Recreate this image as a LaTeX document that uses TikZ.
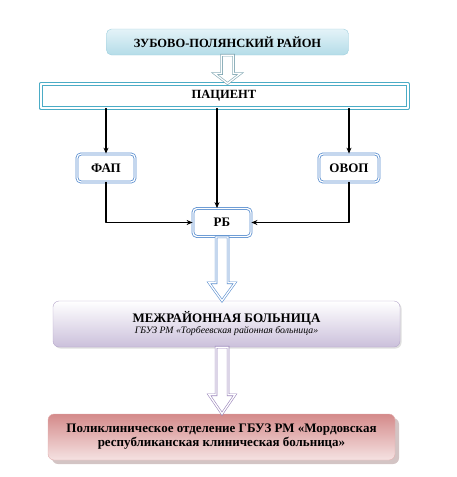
\documentclass[tikz,border=0pt]{standalone}
\usepackage{fontspec}
\setmainfont{Liberation Serif}
\usetikzlibrary{arrows.meta,shadows,calc}
\definecolor{boxblue}{HTML}{5B8FCF}
\definecolor{bandteal}{HTML}{4BACC6}
\definecolor{skytop}{HTML}{E4F3F8}
\definecolor{skybot}{HTML}{B4DCE8}
\definecolor{skyline}{HTML}{9FCFDE}
\definecolor{lilac}{HTML}{CBC0DB}
\definecolor{lilacline}{HTML}{B6A7CB}
\definecolor{lilacarrow}{HTML}{9C87BC}
\definecolor{rosedark}{HTML}{D48A8A}
\definecolor{roselight}{HTML}{F5E2E2}
\definecolor{roseshadow}{HTML}{A88A8A}
\newcommand\fatarrow[4]{%
  \draw[fat,draw=#1] let \p1=(#2), \p2=(#3) in
    (\x1-6pt,\y1) -- (\x1-6pt,\y2+#4) -- (\x1-13pt,\y2+#4) -- (\x1,\y2)
    -- (\x1+13pt,\y2+#4) -- (\x1+6pt,\y2+#4) -- (\x1+6pt,\y1) -- cycle;}
\tikzset{
  dbox/.style={draw=boxblue, double=white, double distance=1.3pt, line width=0.8pt,
    rounded corners=4pt, fill=white, minimum width=58pt, minimum height=28pt,
    font=\fontsize{13}{15}\selectfont\bfseries},
  link/.style={line width=1.3pt, -{Stealth[length=6pt,width=5pt]}},
  fat/.style={line width=0.6pt, double=white, double distance=1.3pt, line join=miter, fill=white},
  bigbox/.style={rounded corners=6pt, minimum width=347pt, minimum height=46pt, align=center}
}
\begin{document}
\begin{tikzpicture}[x=1pt,y=-1pt,line cap=round,line join=round]
  \useasboundingbox (0,0) rectangle (456,477);
  \node[draw=skyline, rounded corners=5pt, top color=skytop, bottom color=skybot,
    minimum width=242pt, minimum height=26pt, font=\fontsize{12.5}{14}\selectfont\bfseries]
    (raion) at (227.5,42) {ЗУБОВО-ПОЛЯНСКИЙ РАЙОН};
  \node[draw=bandteal, double=white, double distance=2pt, line width=1pt,
    minimum width=367pt, minimum height=24pt, font=\fontsize{12.5}{14}\selectfont\bfseries]
    (pac) at (224,96) {ПАЦИЕНТ};
  \node[dbox] (fap) at (106,168) {ФАП};
  \node[dbox, minimum width=60pt] (ovop) at (349,168) {ОВОП};
  \node[dbox] (rb) at (222,222.5) {РБ};
  \node[bigbox, draw=lilacline, top color=white, bottom color=lilac,
    drop shadow={shadow xshift=1.5pt, shadow yshift=-1.5pt, fill=black!25}]
    (mezh) at (226.5,324) {{\fontsize{13}{13}\selectfont\bfseries МЕЖРАЙОННАЯ БОЛЬНИЦА}\\[-1pt]
    {\fontsize{9.8}{11}\selectfont\itshape ГБУЗ РМ «Торбеевская районная больница»}};
  \node[bigbox, draw=rosedark!70, top color=rosedark, bottom color=roselight,
    drop shadow={shadow xshift=4pt, shadow yshift=-4pt, fill=roseshadow},
    font=\fontsize{13}{14}\selectfont\bfseries]
    (poli) at (221.5,437) {Поликлиническое отделение ГБУЗ РМ «Мордовская\\
    республиканская клиническая больница»};
  \fatarrow{skyline!80!black}{raion.south}{pac.north}{10pt}
  \draw[link] (pac.south -| fap) -- (fap);
  \draw[link] (pac.south -| ovop) -- (ovop);
  \draw[link] ([xshift=-5pt]pac.south -| rb) -- ([xshift=-5pt]rb.north);
  \draw[link] (fap) |- (rb);
  \draw[link] (ovop) |- (rb);
  \fatarrow{boxblue}{rb.south}{rb.south |- mezh.north}{18pt}
  \fatarrow{lilacarrow}{rb.south |- mezh.south}{rb.south |- poli.north}{19pt}
\end{tikzpicture}
\end{document}
